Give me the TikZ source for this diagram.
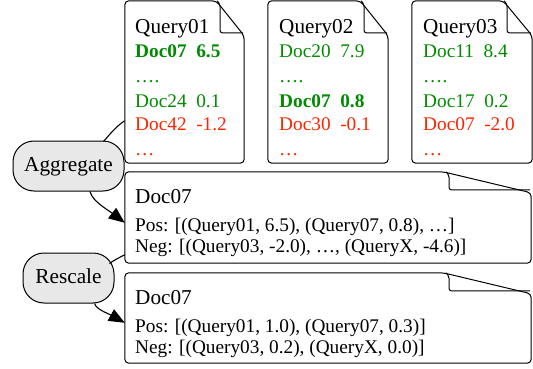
\documentclass[tikz,border=0pt]{standalone}
\usepackage{fontspec}
\setmainfont{Liberation Serif}
\usetikzlibrary{calc,arrows.meta}
\definecolor{posgreen}{RGB}{0,139,0}
\definecolor{negred}{RGB}{255,36,0}
\definecolor{opfill}{RGB}{232,232,232}
\newcommand{\notebox}[5]{%
  \draw[noteline,rounded corners=4pt] ($(#1.north east)+(-#2,0)$) -- (#1.north west) -- (#1.south west) -- (#1.south east) -- ($(#1.north east)+(0,#5)$) -- cycle;
  \draw[noteline,rounded corners=2pt] ($(#1.north east)+(-#3-3,0)$) -- ($(#1.north east)+(-#3,4)$) -- ($(#1.north east)+(-#3,#4)$) -- ($(#1.north east)+(-1,#4)$);}
\begin{document}
\begin{tikzpicture}[x=1pt,y=-1pt,
  noteline/.style={draw=black,line width=1pt},
  boxarea/.style={rectangle,draw=none,inner sep=0pt},
  opnode/.style={rectangle,rounded corners=21pt,draw=black,line width=1pt,fill=opfill,inner sep=0pt,
    font=\rmfamily\fontsize{21.3}{24}\selectfont,text height=14pt,text depth=4pt},
  titletext/.style={anchor=base west,inner sep=0pt,font=\rmfamily\fontsize{21.2}{24}\selectfont},
  rowtext/.style={anchor=base west,inner sep=0pt,font=\rmfamily\fontsize{19.3}{22}\selectfont},
  posrow/.style={rowtext,text=posgreen},
  posbold/.style={rowtext,text=posgreen,font=\rmfamily\fontsize{19.3}{22}\selectfont\bfseries},
  negrow/.style={rowtext,text=negred},
  conn/.style={draw=black,line width=1.1pt},
  arr/.style={conn,-{Triangle[length=16pt,width=13pt]}}]
\useasboundingbox (0,0) rectangle (533,369);

% document boxes
\node[boxarea,minimum width=119pt,minimum height=162pt] (q1) at (184.5,82) {};
\node[boxarea,minimum width=120pt,minimum height=162pt] (q2) at (328,82) {};
\node[boxarea,minimum width=120pt,minimum height=162pt] (q3) at (472,82) {};
\node[boxarea,minimum width=406pt,minimum height=91pt] (d1) at (328,217.5) {};
\node[boxarea,minimum width=406pt,minimum height=90pt] (d2) at (328,318) {};
\notebox{q1}{28}{24}{32}{35}
\notebox{q2}{28}{24}{32}{35}
\notebox{q3}{29}{25}{32}{35}
\notebox{d1}{88}{82}{18}{21}
\notebox{d2}{88}{82}{18}{21}

% operation nodes
\node[opnode,minimum width=111pt,minimum height=50pt] (agg) at (68.5,166) {Aggregate};
\node[opnode,minimum width=91pt,minimum height=50pt] (rs) at (68.5,278) {Rescale};

% Query01
\node[titletext] (q1t) at (135,34) {Query01};
\node[posbold] (q1a) at (135,58) {Doc07\hspace{0.5em}6.5};
\node[posrow] (q1b) at (135,83) {….};
\node[posrow] (q1c) at (135,107) {Doc24\hspace{0.5em}0.1};
\node[negrow] (q1d) at (135,130) {Doc42\hspace{0.5em}-1.2};
\node[negrow] (q1e) at (135,155) {…};
% Query02
\node[titletext] (q2t) at (279,34) {Query02};
\node[posrow] (q2a) at (279,58) {Doc20\hspace{0.5em}7.9};
\node[posrow] (q2b) at (279,83) {….};
\node[posbold] (q2c) at (279,107) {Doc07\hspace{0.5em}0.8};
\node[negrow] (q2d) at (279,130) {Doc30\hspace{0.5em}-0.1};
\node[negrow] (q2e) at (279,155) {…};
% Query03
\node[titletext] (q3t) at (423,34) {Query03};
\node[posrow] (q3a) at (423,58) {Doc11\hspace{0.5em}8.4};
\node[posrow] (q3b) at (423,83) {….};
\node[posrow] (q3c) at (423,107) {Doc17\hspace{0.5em}0.2};
\node[negrow] (q3d) at (423,130) {Doc07\hspace{0.5em}-2.0};
\node[negrow] (q3e) at (423,155) {…};
% aggregated
\node[titletext] (d1t) at (135,203) {Doc07};
\node[rowtext] (d1a) at (135,231) {Pos: [(Query01, 6.5), (Query07, 0.8), …]};
\node[rowtext] (d1b) at (135,252) {Neg: [(Query03, -2.0), …, (QueryX, -4.6)]};
% rescaled
\node[titletext] (d2t) at (135,304) {Doc07};
\node[rowtext] (d2a) at (135,332) {Pos: [(Query01, 1.0), (Query07, 0.3)]};
\node[rowtext] (d2b) at (135,353) {Neg: [(Query03, 0.2), (QueryX, 0.0)]};

% connectors
\draw[conn] ($(q1.north west)+(0,120)$) .. controls ($(q1.north west)+(-7,124)$) and ($(agg.north east)+(-15,-6)$) .. ($(agg.north east)+(-21,1)$);
\draw[arr] ($(agg.south)+(21.5,0)$) .. controls ($(agg.south)+(24,10)$) and ($(d1.north west)+(-17,38)$) .. ($(d1.north west)+(0,51)$);
\draw[conn] ($(d1.north west)+(0,83)$) .. controls ($(d1.north west)+(-6,86)$) and ($(rs.north east)+(-1,8)$) .. ($(rs.north east)+(-5,11)$);
\draw[arr] ($(rs.south)+(26,0)$) .. controls ($(rs.south)+(28,6)$) and ($(d2.north west)+(-18,40)$) .. ($(d2.north west)+(0,50)$);
\end{tikzpicture}
\end{document}
